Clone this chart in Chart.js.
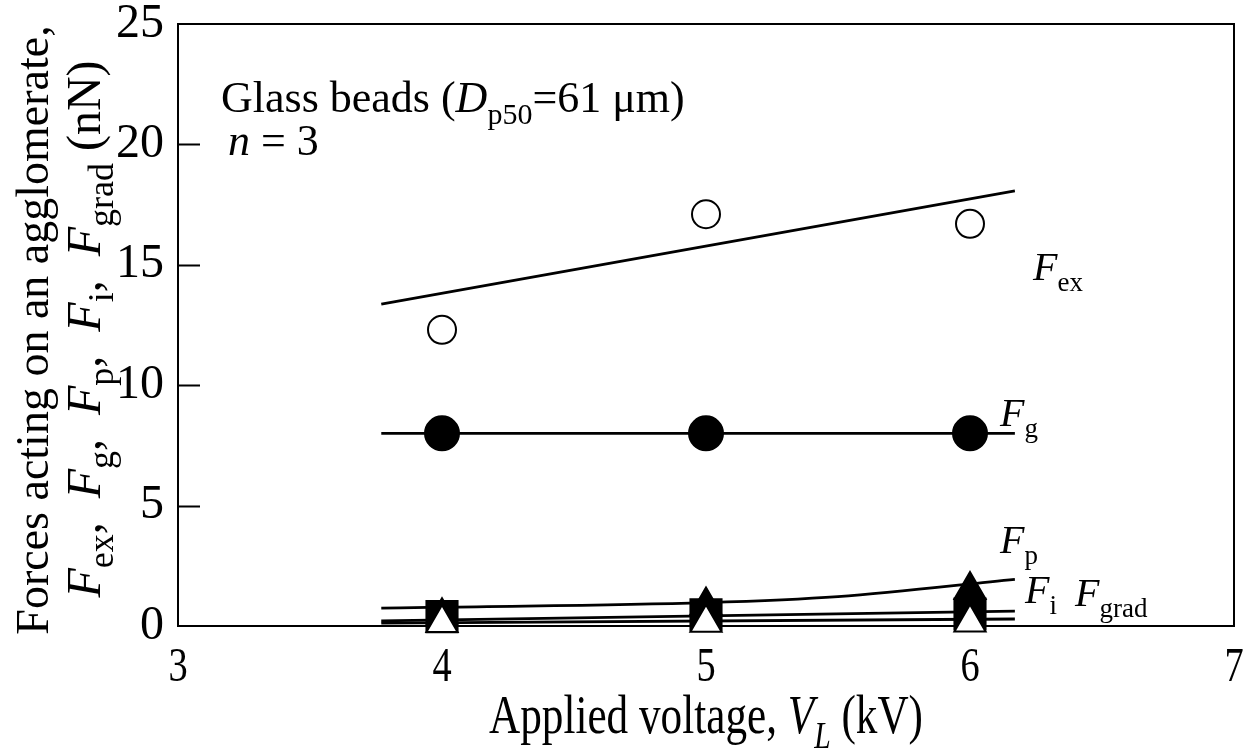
<!DOCTYPE html>
<html>
<head>
<meta charset="utf-8">
<script src="https://cdn.jsdelivr.net/npm/chart.js@4.4.1/dist/chart.umd.min.js"></script>
<style>
  html, body { margin: 0; padding: 0; background: #fff; }
</style>
</head>
<body>
<canvas id="forceChart" width="1258" height="750"></canvas>
<script>
// ---------- Data (nN) ----------
const voltages = [4, 5, 6];
const fEx = [12.3, 17.1, 16.7];
const fG = [8.0, 8.0, 8.0];
const fP = [0.4, 0.85, 1.5];
const fI = [0.39, 0.47, 0.5];
const fGrad = [0.12, 0.13, 0.15];

// fitted curves
const fitX = [3.77, 6.17];
const fExFit = [13.37, 18.07];
const fGFit = [8.0, 8.0];
const fIFit = [0.21, 0.62];
const fGradFit = [0.12, 0.29];
const fPCurveX = [3.77, 4, 5, 5.5, 6.17];
const fPCurve = [0.74, 0.78, 0.97, 1.22, 1.94];

const xTicks = [3, 4, 5, 6, 7];
const yTicks = [0, 5, 10, 15, 20, 25];

const SERIF = '"Liberation Serif", "Times New Roman", serif';

const pts = (xs, ys) => xs.map((x, i) => ({ x, y: ys[i] }));

// ---------- Rich text helpers (italic + subscripts) ----------
// kind: n = normal, i = italic, s = subscript, si = italic subscript
function partFont(kind, size, subScale) {
  const sub = kind[0] === 's';
  const ital = kind.indexOf('i') >= 0;
  return (ital ? 'italic ' : '') + (sub ? Math.round(size * subScale) : size) + 'px ' + SERIF;
}

function richWidth(ctx, parts, size, subScale) {
  let w = 0;
  parts.forEach(([t, k]) => { ctx.font = partFont(k, size, subScale); w += ctx.measureText(t).width; });
  return w;
}

function drawRich(ctx, parts, x, y, size, align, subScale = 0.68) {
  let cx = x;
  if (align === 'center') cx -= richWidth(ctx, parts, size, subScale) / 2;
  ctx.textAlign = 'left';
  ctx.textBaseline = 'alphabetic';
  parts.forEach(([t, k]) => {
    ctx.font = partFont(k, size, subScale);
    const dy = k[0] === 's' ? size * 0.28 : 0;
    ctx.fillText(t, cx, y + dy);
    cx += ctx.measureText(t).width;
  });
}

// ---------- Labels ----------
const yTitle1 = [['Forces acting on an agglomerate,', 'n']];
const yTitle2 = [
  ['F', 'i'], ['ex', 's'], [',  ', 'n'], ['F', 'i'], ['g', 's'], [',  ', 'n'],
  ['F', 'i'], ['p', 's'], [',  ', 'n'], ['F', 'i'], ['i', 's'], [',  ', 'n'],
  ['F', 'i'], ['grad', 's'], [' (nN)', 'n']
];
const xTitle = [['Applied voltage, ', 'n'], ['V', 'i'], ['L', 'si'], [' (kV)', 'n']];

const notes = [
  { parts: [['Glass beads (', 'n'], ['D', 'i'], ['p50', 's'], ['=61 \u03bcm)', 'n']], x: 221, y: 112, size: 44 },
  { parts: [['n', 'i'], [' = 3', 'n']], x: 228, y: 155, size: 44 },
  { parts: [['F', 'i'], ['ex', 's']], x: 1033, y: 280, size: 40 },
  { parts: [['F', 'i'], ['g', 's']], x: 1000, y: 426, size: 40 },
  { parts: [['F', 'i'], ['p', 's']], x: 1000, y: 553, size: 40 },
  { parts: [['F', 'i'], ['i', 's']], x: 1025, y: 603, size: 40 },
  { parts: [['F', 'i'], ['grad', 's']], x: 1075, y: 606, size: 40 }
];

// ---------- Plugins ----------
const framePlugin = {
  id: 'frame',
  beforeDatasetsDraw(chart) {
    const { ctx, chartArea: a, scales: { y } } = chart;
    ctx.save();
    ctx.strokeStyle = '#000';
    ctx.lineWidth = 2;
    ctx.strokeRect(a.left, a.top, a.right - a.left, a.bottom - a.top);
    // inward ticks on the left axis
    ctx.beginPath();
    y.ticks.forEach(t => {
      if (t.value <= y.min || t.value >= y.max) return;
      const py = Math.round(y.getPixelForValue(t.value)) + 0.5;
      ctx.moveTo(a.left, py);
      ctx.lineTo(a.left + 22, py);
    });
    ctx.stroke();
    ctx.restore();
  }
};

const textPlugin = {
  id: 'texts',
  afterDraw(chart) {
    const { ctx, chartArea: a, scales: { x } } = chart;
    ctx.save();
    ctx.fillStyle = '#000';

    // x tick labels (narrow face)
    x.ticks.forEach(t => {
      ctx.save();
      ctx.translate(x.getPixelForValue(t.value), 681);
      ctx.scale(0.8, 1);
      drawRich(ctx, [[String(t.value), 'n']], 0, 0, 48, 'center');
      ctx.restore();
    });

    // x title
    ctx.save();
    ctx.translate((a.left + a.right) / 2, 733);
    ctx.scale(0.8, 1);
    drawRich(ctx, xTitle, 0, 0, 54, 'center');
    ctx.restore();

    // y title, two rotated lines
    ctx.save();
    ctx.translate(48, 330);
    ctx.rotate(-Math.PI / 2);
    drawRich(ctx, yTitle1, 0, 0, 46, 'center');
    ctx.restore();
    ctx.save();
    ctx.translate(100, 329);
    ctx.rotate(-Math.PI / 2);
    drawRich(ctx, yTitle2, 0, 0, 48, 'center', 0.74);
    ctx.restore();

    notes.forEach(n => drawRich(ctx, n.parts, n.x, n.y, n.size, 'left'));
    ctx.restore();
  }
};

// ---------- Chart ----------
const base = { borderColor: '#000', clip: false };
const marker = (data, style, radius, fill, order) => ({
  ...base, data, pointStyle: style, pointRadius: radius, pointHoverRadius: radius,
  backgroundColor: fill, pointBackgroundColor: fill, pointBorderColor: '#000',
  borderWidth: 2, showLine: false, order
});
const fitLine = (data, extra) => ({
  ...base, data, showLine: true, pointRadius: 0, pointHoverRadius: 0,
  borderWidth: 2.8, fill: false, order: 10, ...extra
});

new Chart(document.getElementById('forceChart'), {
  type: 'scatter',
  data: {
    datasets: [
      marker(pts(voltages, fGrad), 'triangle', 18, '#fff', 1),
      marker(pts(voltages, fI), 'rect', 22, '#000', 2),
      marker(pts(voltages, fP), 'triangle', 18, '#000', 3),
      marker(pts(voltages, fG), 'circle', 17, '#000', 4),
      marker(pts(voltages, fEx), 'circle', 14, '#fff', 5),
      fitLine(pts(fitX, fExFit)),
      fitLine(pts(fitX, fGFit)),
      fitLine(pts(fPCurveX, fPCurve), { cubicInterpolationMode: 'monotone' }),
      fitLine(pts(fitX, fIFit)),
      fitLine(pts(fitX, fGradFit))
    ]
  },
  options: {
    responsive: false,
    animation: false,
    events: [],
    layout: { padding: { top: 20, right: 21, left: 0, bottom: 0 } },
    plugins: { legend: { display: false }, tooltip: { enabled: false } },
    scales: {
      x: {
        type: 'linear', min: 3, max: 7,
        afterBuildTicks: s => { s.ticks = xTicks.map(v => ({ value: v })); },
        ticks: { display: false },
        grid: { display: false, drawTicks: false },
        border: { display: false },
        afterFit: s => { s.height = 124; s.paddingLeft = 0; s.paddingRight = 0; }
      },
      y: {
        min: 0, max: 25,
        afterBuildTicks: s => { s.ticks = yTicks.map(v => ({ value: v })); },
        ticks: { color: '#000', padding: 14, font: { family: SERIF, size: 48 } },
        grid: { display: false, drawTicks: false },
        border: { display: false },
        afterFit: s => { s.width = 178; s.paddingTop = 0; s.paddingBottom = 0; }
      }
    }
  },
  plugins: [framePlugin, textPlugin]
});
</script>
</body>
</html>
